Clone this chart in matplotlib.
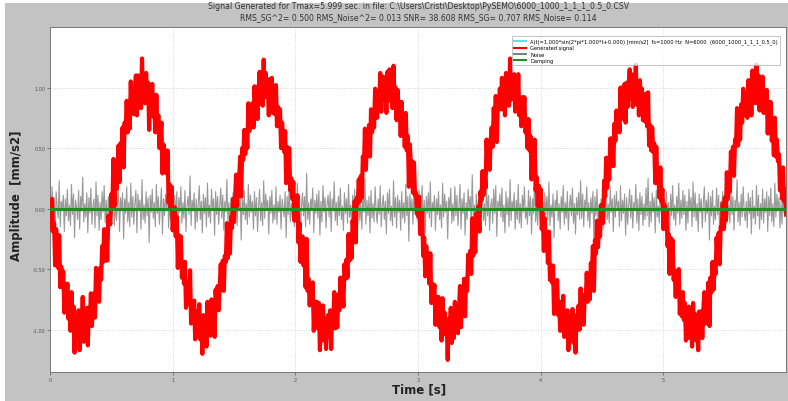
import numpy as np
import matplotlib
matplotlib.use("Agg")
import matplotlib.pyplot as plt
from matplotlib.patches import Rectangle

# ---------------- data ----------------
t_max = 6.0
n_samples = 721
time_s = np.linspace(0.0, t_max, n_samples)

clean_signal = [
    # period 1
    0.00,-0.05,-0.10,-0.16,-0.21,-0.26,-0.31,-0.36,-0.41,-0.45,-0.50,-0.54,-0.59,-0.63,-0.67,-0.71,-0.74,-0.78,-0.81,-0.84,-0.87,-0.89,-0.91,-0.93,-0.95,-0.97,-0.98,-0.99,-0.99,-1.00,-1.00,-1.00,-0.99,-0.99,-0.98,-0.97,-0.95,-0.93,-0.91,-0.89,-0.87,-0.84,-0.81,-0.78,-0.74,-0.71,-0.67,-0.63,-0.59,-0.54,-0.50,-0.45,-0.41,-0.36,-0.31,-0.26,-0.21,-0.16,-0.10,-0.05,
    0.00,0.05,0.10,0.16,0.21,0.26,0.31,0.36,0.41,0.45,0.50,0.54,0.59,0.63,0.67,0.71,0.74,0.78,0.81,0.84,0.87,0.89,0.91,0.93,0.95,0.97,0.98,0.99,0.99,1.00,1.00,1.00,0.99,0.99,0.98,0.97,0.95,0.93,0.91,0.89,0.87,0.84,0.81,0.78,0.74,0.71,0.67,0.63,0.59,0.54,0.50,0.45,0.41,0.36,0.31,0.26,0.21,0.16,0.10,0.05,
    # period 2
    0.00,-0.05,-0.10,-0.16,-0.21,-0.26,-0.31,-0.36,-0.41,-0.45,-0.50,-0.54,-0.59,-0.63,-0.67,-0.71,-0.74,-0.78,-0.81,-0.84,-0.87,-0.89,-0.91,-0.93,-0.95,-0.97,-0.98,-0.99,-0.99,-1.00,-1.00,-1.00,-0.99,-0.99,-0.98,-0.97,-0.95,-0.93,-0.91,-0.89,-0.87,-0.84,-0.81,-0.78,-0.74,-0.71,-0.67,-0.63,-0.59,-0.54,-0.50,-0.45,-0.41,-0.36,-0.31,-0.26,-0.21,-0.16,-0.10,-0.05,
    0.00,0.05,0.10,0.16,0.21,0.26,0.31,0.36,0.41,0.45,0.50,0.54,0.59,0.63,0.67,0.71,0.74,0.78,0.81,0.84,0.87,0.89,0.91,0.93,0.95,0.97,0.98,0.99,0.99,1.00,1.00,1.00,0.99,0.99,0.98,0.97,0.95,0.93,0.91,0.89,0.87,0.84,0.81,0.78,0.74,0.71,0.67,0.63,0.59,0.54,0.50,0.45,0.41,0.36,0.31,0.26,0.21,0.16,0.10,0.05,
    # period 3
    0.00,-0.05,-0.10,-0.16,-0.21,-0.26,-0.31,-0.36,-0.41,-0.45,-0.50,-0.54,-0.59,-0.63,-0.67,-0.71,-0.74,-0.78,-0.81,-0.84,-0.87,-0.89,-0.91,-0.93,-0.95,-0.97,-0.98,-0.99,-0.99,-1.00,-1.00,-1.00,-0.99,-0.99,-0.98,-0.97,-0.95,-0.93,-0.91,-0.89,-0.87,-0.84,-0.81,-0.78,-0.74,-0.71,-0.67,-0.63,-0.59,-0.54,-0.50,-0.45,-0.41,-0.36,-0.31,-0.26,-0.21,-0.16,-0.10,-0.05,
    0.00,0.05,0.10,0.16,0.21,0.26,0.31,0.36,0.41,0.45,0.50,0.54,0.59,0.63,0.67,0.71,0.74,0.78,0.81,0.84,0.87,0.89,0.91,0.93,0.95,0.97,0.98,0.99,0.99,1.00,1.00,1.00,0.99,0.99,0.98,0.97,0.95,0.93,0.91,0.89,0.87,0.84,0.81,0.78,0.74,0.71,0.67,0.63,0.59,0.54,0.50,0.45,0.41,0.36,0.31,0.26,0.21,0.16,0.10,0.05,
    # period 4
    0.00,-0.05,-0.10,-0.16,-0.21,-0.26,-0.31,-0.36,-0.41,-0.45,-0.50,-0.54,-0.59,-0.63,-0.67,-0.71,-0.74,-0.78,-0.81,-0.84,-0.87,-0.89,-0.91,-0.93,-0.95,-0.97,-0.98,-0.99,-0.99,-1.00,-1.00,-1.00,-0.99,-0.99,-0.98,-0.97,-0.95,-0.93,-0.91,-0.89,-0.87,-0.84,-0.81,-0.78,-0.74,-0.71,-0.67,-0.63,-0.59,-0.54,-0.50,-0.45,-0.41,-0.36,-0.31,-0.26,-0.21,-0.16,-0.10,-0.05,
    0.00,0.05,0.10,0.16,0.21,0.26,0.31,0.36,0.41,0.45,0.50,0.54,0.59,0.63,0.67,0.71,0.74,0.78,0.81,0.84,0.87,0.89,0.91,0.93,0.95,0.97,0.98,0.99,0.99,1.00,1.00,1.00,0.99,0.99,0.98,0.97,0.95,0.93,0.91,0.89,0.87,0.84,0.81,0.78,0.74,0.71,0.67,0.63,0.59,0.54,0.50,0.45,0.41,0.36,0.31,0.26,0.21,0.16,0.10,0.05,
    # period 5
    0.00,-0.05,-0.10,-0.16,-0.21,-0.26,-0.31,-0.36,-0.41,-0.45,-0.50,-0.54,-0.59,-0.63,-0.67,-0.71,-0.74,-0.78,-0.81,-0.84,-0.87,-0.89,-0.91,-0.93,-0.95,-0.97,-0.98,-0.99,-0.99,-1.00,-1.00,-1.00,-0.99,-0.99,-0.98,-0.97,-0.95,-0.93,-0.91,-0.89,-0.87,-0.84,-0.81,-0.78,-0.74,-0.71,-0.67,-0.63,-0.59,-0.54,-0.50,-0.45,-0.41,-0.36,-0.31,-0.26,-0.21,-0.16,-0.10,-0.05,
    0.00,0.05,0.10,0.16,0.21,0.26,0.31,0.36,0.41,0.45,0.50,0.54,0.59,0.63,0.67,0.71,0.74,0.78,0.81,0.84,0.87,0.89,0.91,0.93,0.95,0.97,0.98,0.99,0.99,1.00,1.00,1.00,0.99,0.99,0.98,0.97,0.95,0.93,0.91,0.89,0.87,0.84,0.81,0.78,0.74,0.71,0.67,0.63,0.59,0.54,0.50,0.45,0.41,0.36,0.31,0.26,0.21,0.16,0.10,0.05,
    # period 6
    0.00,-0.05,-0.10,-0.16,-0.21,-0.26,-0.31,-0.36,-0.41,-0.45,-0.50,-0.54,-0.59,-0.63,-0.67,-0.71,-0.74,-0.78,-0.81,-0.84,-0.87,-0.89,-0.91,-0.93,-0.95,-0.97,-0.98,-0.99,-0.99,-1.00,-1.00,-1.00,-0.99,-0.99,-0.98,-0.97,-0.95,-0.93,-0.91,-0.89,-0.87,-0.84,-0.81,-0.78,-0.74,-0.71,-0.67,-0.63,-0.59,-0.54,-0.50,-0.45,-0.41,-0.36,-0.31,-0.26,-0.21,-0.16,-0.10,-0.05,
    0.00,0.05,0.10,0.16,0.21,0.26,0.31,0.36,0.41,0.45,0.50,0.54,0.59,0.63,0.67,0.71,0.74,0.78,0.81,0.84,0.87,0.89,0.91,0.93,0.95,0.97,0.98,0.99,0.99,1.00,1.00,1.00,0.99,0.99,0.98,0.97,0.95,0.93,0.91,0.89,0.87,0.84,0.81,0.78,0.74,0.71,0.67,0.63,0.59,0.54,0.50,0.45,0.41,0.36,0.31,0.26,0.21,0.16,0.10,0.05,
    0.00,
]

noise = [
    0.05,-0.12,0.18,-0.03,0.09,-0.21,0.14,0.02,-0.08,0.23,-0.15,0.06,-0.01,0.11,-0.19,0.08,-0.06,0.16,-0.10,0.03,
    -0.14,0.20,-0.05,0.12,-0.24,0.07,0.01,-0.09,0.15,-0.17,0.10,-0.02,0.26,-0.11,0.04,-0.07,0.13,-0.20,0.09,-0.04,
    0.17,-0.13,0.02,0.08,-0.16,0.22,-0.06,0.11,-0.18,0.05,-0.09,0.14,-0.03,0.19,-0.12,0.07,-0.22,0.10,0.01,-0.08,
    0.12,-0.05,0.31,-0.14,0.06,-0.10,0.03,0.16,-0.19,0.09,-0.02,0.13,-0.25,0.08,-0.04,0.18,-0.11,0.05,-0.15,0.21,
    -0.07,0.10,-0.13,0.04,0.15,-0.20,0.12,-0.01,0.07,-0.17,0.24,-0.09,0.03,-0.12,0.14,-0.06,0.09,-0.28,0.11,-0.03,
    0.16,-0.08,0.05,-0.15,0.20,-0.04,0.10,-0.13,0.02,0.17,-0.21,0.08,-0.06,0.12,-0.02,0.22,-0.16,0.04,-0.10,0.13,
    -0.18,0.06,0.11,-0.07,0.14,-0.23,0.09,-0.03,0.18,-0.12,0.05,-0.08,0.15,-0.19,0.02,0.10,-0.05,0.27,-0.14,0.07,
    -0.02,0.13,-0.17,0.08,-0.11,0.04,0.19,-0.09,0.06,-0.20,0.12,-0.04,0.09,-0.15,0.21,-0.07,0.03,-0.12,0.16,-0.01,
    0.08,-0.22,0.14,-0.05,0.10,-0.13,0.02,0.17,-0.08,0.11,-0.18,0.06,-0.03,0.24,-0.10,0.05,-0.16,0.09,-0.06,0.13,
    -0.11,0.03,0.18,-0.14,0.07,-0.02,0.12,-0.26,0.09,-0.05,0.15,-0.09,0.04,-0.13,0.20,-0.07,0.11,-0.03,0.06,-0.17,
    0.14,-0.06,0.09,-0.19,0.02,0.16,-0.10,0.05,-0.14,0.23,-0.08,0.12,-0.01,0.07,-0.21,0.10,-0.04,0.15,-0.12,0.03,
    -0.09,0.18,-0.13,0.06,-0.03,0.11,-0.17,0.08,0.01,-0.07,0.14,-0.24,0.10,-0.05,0.19,-0.11,0.04,-0.08,0.12,-0.15,
    0.06,-0.02,0.21,-0.12,0.09,-0.18,0.03,0.13,-0.06,0.10,-0.15,0.29,-0.09,0.05,-0.13,0.08,-0.01,0.17,-0.20,0.07,
    -0.04,0.12,-0.08,0.15,-0.22,0.06,-0.11,0.19,-0.03,0.09,-0.16,0.04,0.11,-0.07,0.14,-0.19,0.08,-0.02,0.22,-0.10,
    0.05,-0.14,0.10,-0.06,0.17,-0.09,0.02,-0.18,0.13,-0.04,0.08,-0.12,0.20,-0.07,0.03,-0.15,0.11,-0.05,0.16,-0.23,
    0.09,-0.01,0.14,-0.10,0.06,-0.17,0.12,-0.03,0.25,-0.13,0.07,-0.06,0.10,-0.20,0.15,-0.08,0.04,-0.11,0.18,-0.02,
    -0.12,0.08,-0.05,0.19,-0.15,0.03,0.11,-0.09,0.06,-0.21,0.13,-0.04,0.16,-0.10,0.02,-0.14,0.23,-0.07,0.09,-0.16,
    0.11,-0.03,0.07,-0.18,0.14,-0.08,0.05,-0.12,0.20,-0.06,0.10,-0.27,0.12,-0.02,0.08,-0.13,0.17,-0.05,0.03,-0.09,
    -0.06,0.15,-0.11,0.02,0.19,-0.13,0.07,-0.20,0.10,-0.04,0.13,-0.08,0.22,-0.15,0.05,-0.02,0.11,-0.18,0.08,-0.05,
    0.14,-0.09,0.03,-0.16,0.21,-0.07,0.12,-0.03,0.06,-0.25,0.09,-0.01,0.17,-0.12,0.04,-0.10,0.18,-0.06,0.11,-0.14,
    0.02,0.20,-0.17,0.08,-0.04,0.13,-0.22,0.05,-0.09,0.16,-0.02,0.10,-0.13,0.28,-0.08,0.03,-0.15,0.12,-0.05,0.07,
    -0.19,0.09,-0.03,0.15,-0.10,0.04,-0.14,0.21,-0.06,0.11,-0.18,0.02,0.08,-0.12,0.16,-0.04,0.19,-0.23,0.06,-0.01,
    0.12,-0.07,0.17,-0.11,0.03,-0.20,0.14,-0.05,0.09,-0.15,0.24,-0.10,0.06,-0.02,0.13,-0.17,0.07,-0.09,0.20,-0.12,
    0.04,-0.16,0.11,-0.03,0.18,-0.08,0.01,-0.13,0.15,-0.06,0.10,-0.21,0.08,-0.04,0.26,-0.11,0.05,-0.14,0.09,-0.02,
    0.16,-0.12,0.06,-0.19,0.13,-0.05,0.10,-0.09,0.22,-0.14,0.03,-0.07,0.12,-0.24,0.07,-0.01,0.15,-0.10,0.04,-0.17,
    0.10,-0.03,0.19,-0.13,0.05,-0.08,0.14,-0.18,0.02,0.11,-0.06,0.17,-0.12,0.04,-0.21,0.09,-0.05,0.13,-0.09,0.23,
    -0.08,0.12,-0.15,0.07,-0.02,0.18,-0.10,0.05,-0.16,0.09,-0.04,0.14,-0.27,0.10,-0.06,0.16,-0.11,0.03,-0.13,0.08,
    0.01,-0.17,0.13,-0.06,0.21,-0.09,0.04,-0.12,0.17,-0.03,0.08,-0.19,0.11,-0.07,0.14,-0.01,0.06,-0.15,0.19,-0.10,
    0.07,-0.04,0.12,-0.22,0.09,-0.13,0.03,0.16,-0.08,0.11,-0.16,0.05,-0.02,0.20,-0.12,0.08,-0.18,0.13,-0.05,0.10,
    -0.14,0.04,-0.09,0.17,-0.06,0.25,-0.15,0.06,-0.11,0.13,-0.03,0.09,-0.20,0.15,-0.07,0.02,-0.12,0.18,-0.04,0.11,
    -0.17,0.08,-0.01,0.14,-0.10,0.05,-0.23,0.12,-0.06,0.19,-0.09,0.03,-0.14,0.10,-0.04,0.21,-0.13,0.07,-0.08,0.15,
    -0.05,0.11,-0.18,0.06,-0.12,0.16,-0.02,0.09,-0.15,0.22,-0.07,0.13,-0.10,0.04,-0.19,0.12,-0.03,0.08,-0.16,0.05,
    0.18,-0.11,0.07,-0.04,0.13,-0.26,0.10,-0.06,0.15,-0.13,0.02,-0.09,0.17,-0.05,0.11,-0.20,0.06,-0.01,0.14,-0.12,
    0.09,-0.15,0.20,-0.08,0.03,-0.12,0.16,-0.05,0.10,-0.18,0.07,-0.02,0.24,-0.11,0.05,-0.14,0.12,-0.07,0.18,-0.03,
    -0.10,0.06,-0.16,0.13,-0.04,0.09,-0.21,0.15,-0.08,0.02,-0.13,0.19,-0.06,0.11,-0.17,0.04,-0.09,0.16,-0.12,0.08,
    -0.03,0.14,-0.19,0.10,-0.06,0.17,-0.11,0.04,-0.15,0.21,-0.07,0.12,-0.02,0.09,-0.16,0.06,-0.13,0.18,-0.04,0.11,
    -0.05,
]

generated_signal = np.array(clean_signal) + np.array(noise)

damping_t = [0.0, 6.0]
damping_v = [0.0, 0.0]

x_ticks = [0, 1, 2, 3, 4, 5]
y_ticks = [-1.0, -0.5, 0.0, 0.5, 1.0]

title_text = ("Signal Generated for Tmax=5.999 sec. in file: "
              "C:\\Users\\Cristi\\Desktop\\PySEMO\\6000_1000_1_1_1_0.5_0.CSV\n"
              "RMS_SG^2= 0.500 RMS_Noise^2= 0.013 SNR= 38.608 RMS_SG= 0.707 RMS_Noise= 0.114")
labels = ["A(t)=1.000*sin(2*pi*1.000*t+0.000) [mm/s2]  fs=1000 Hz  N=6000  (6000_1000_1_1_1_0.5_0)",
          "Generated signal", "Noise", "Damping"]

# ---------------- figure ----------------
W, H = 788, 402
fig = plt.figure(figsize=(W / 100, H / 100), dpi=100, facecolor="white")
fig.patches.append(Rectangle((5 / W, 0), 1, 1 - 4 / H, transform=fig.transFigure,
                             facecolor="#c3c3c3", edgecolor="none", zorder=-10))

ax = fig.add_axes([50 / W, (H - 373) / H, (786 - 50) / W, (373 - 28) / H])
ax.set_facecolor("white")

ax.plot(time_s, clean_signal, color="#66e0e0", lw=1.0, label=labels[0], zorder=1)
ax.plot(time_s, noise, color="#808080", lw=0.8, alpha=0.8, label=labels[2], zorder=2)
ax.plot(time_s, generated_signal, color="#ff0000", lw=3.0, label=labels[1], zorder=3)
ax.plot(damping_t, damping_v, color="#228b22", lw=2.2, label=labels[3], zorder=4)

ax.set_xlim(0, 5.999)
ax.set_ylim(-1.35, 1.5)
ax.set_xticks(x_ticks)
ax.set_xticklabels([str(v) for v in x_ticks])
ax.set_yticks(y_ticks)
ax.set_yticklabels([f"{v:.2f}" for v in y_ticks])
ax.tick_params(labelsize=3.5, colors="#555555", length=2, width=0.5, pad=1.5)
ax.grid(True, color="#cccccc", linestyle=":", linewidth=0.6)
for s in ax.spines.values():
    s.set_color("#777777")
    s.set_linewidth(0.7)

handles, labs = ax.get_legend_handles_labels()
order = [labs.index(l) for l in labels]
leg = ax.legend([handles[i] for i in order], [labs[i] for i in order],
                loc="upper right", fontsize=3.7, frameon=True, fancybox=False,
                borderpad=0.4, labelspacing=0.25, handlelength=2.3,
                bbox_to_anchor=(0.995, 0.98))
leg.get_frame().set_edgecolor("#aaaaaa")
leg.get_frame().set_linewidth(0.6)
for lh in leg.get_lines():
    lh.set_linewidth(1.5)
    lh.set_alpha(1.0)

fig.text(418 / W, 1 - 12 / H, title_text, ha="center", va="center",
         fontsize=5.6, color="#333333", linespacing=1.2)
fig.text(17 / W, (H - 196) / H, "Amplitude  [mm/s2]", rotation=90,
         ha="center", va="center", fontsize=8.5, fontweight="bold", color="#222222")
fig.text(419 / W, (H - 390) / H, "Time [s]", ha="center", va="center",
         fontsize=8.5, fontweight="bold", color="#222222")

fig.savefig("out.png", dpi=100, facecolor=fig.get_facecolor())
